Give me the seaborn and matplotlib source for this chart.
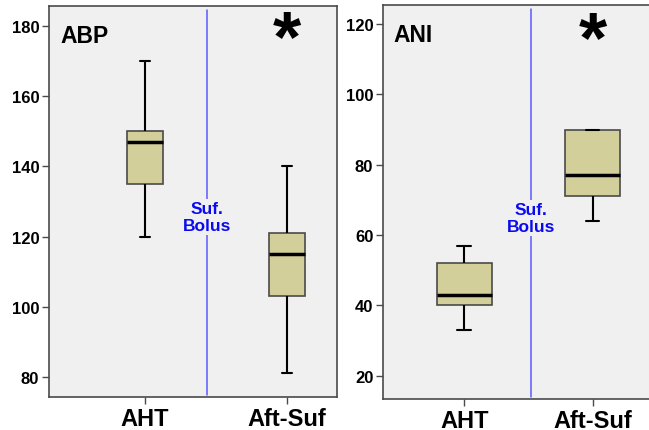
import numpy as np
import pandas as pd
import matplotlib
matplotlib.use("Agg")
import matplotlib.pyplot as plt
import seaborn as sns

# five-number summaries (min, q1, median, q3, max)
groups = ["AHT", "Aft-Suf"]
abp_aht = [120, 135, 147, 150, 170]
abp_aft = [81, 103, 115, 121, 140]
ani_aht = [33, 40, 43, 52, 57]
ani_aft = [64, 71, 77, 90, 90]

abp_ticks = [80, 100, 120, 140, 160, 180]
ani_ticks = [20, 40, 60, 80, 100, 120]

sns.set_style("white")
plt.rcParams['font.family'] = ['Liberation Sans', 'DejaVu Sans']
plt.rcParams['font.weight'] = 'bold'
plt.rcParams['text.color'] = 'black'

BG = "#F0F0F0"
FILL = "#D3CF9A"
EDGE = "#4A4A4A"


def make_df(a, b):
    return pd.DataFrame({
        "grp": [groups[0]] * len(a) + [groups[1]] * len(b),
        "val": a + b,
    })


def panel(ax, df, width, ticks, ylim, xlim, label, line_x, text_y, star_y):
    ax.set_facecolor(BG)
    sns.boxplot(data=df, x="grp", y="val", order=groups, ax=ax,
                color=FILL, saturation=1, width=width, whis=np.inf,
                linecolor=EDGE, linewidth=1.2,
                medianprops=dict(color="black", linewidth=2.5),
                whiskerprops=dict(color="black", linewidth=1.5),
                capprops=dict(color="black", linewidth=1.5),
                capwidths=0.25 * width)
    ax.set_xlim(*xlim)
    ax.set_ylim(*ylim)
    ax.set_yticks(ticks)
    ax.set_xlabel("")
    ax.set_ylabel("")
    for s in ax.spines.values():
        s.set_visible(True)
        s.set_color(EDGE)
        s.set_linewidth(1.2)
    ax.tick_params(axis="y", length=5, width=1, color=EDGE, pad=2,
                   labelsize=12, labelcolor="black", left=True)
    ax.tick_params(axis="x", length=5, width=1, color=EDGE, pad=2,
                   labelsize=17, labelcolor="black", bottom=True)
    for t in ax.get_xticklabels() + ax.get_yticklabels():
        t.set_fontweight("bold")
    ax.axvline(line_x, ymin=0.005, ymax=0.99, color="#5a5aff", lw=1.1, zorder=1)
    ax.text(line_x, text_y, "Suf.\nBolus", color="#0A0AF0", fontsize=12.5,
            fontweight="bold", ha="center", va="center", zorder=3,
            bbox=dict(facecolor=BG, edgecolor="none", pad=1.5))
    ax.text(0.04, 0.955, label, transform=ax.transAxes, fontsize=16.5,
            fontweight="bold", ha="left", va="top", color="black")
    ax.text(1.0, star_y, "*", fontsize=52, fontweight="bold",
            ha="center", va="center", color="black")


fig = plt.figure(figsize=(6.49, 4.31), dpi=100)
ax1 = fig.add_axes([49 / 649, 33 / 431, 288 / 649, 391 / 431])
ax2 = fig.add_axes([383 / 649, 31 / 431, 272 / 649, 394 / 431])

panel(ax1, make_df(abp_aht, abp_aft), 0.26, abp_ticks, (74.3, 185.7),
      (-0.676, 1.352), "ABP", 0.44, 125.6, 175.8)
panel(ax2, make_df(ani_aht, ani_aft), 0.43, ani_ticks, (13.4, 125.4),
      (-0.634, 1.487), "ANI", 0.52, 64.8, 114.8)

fig.savefig("out.png", dpi=100)
